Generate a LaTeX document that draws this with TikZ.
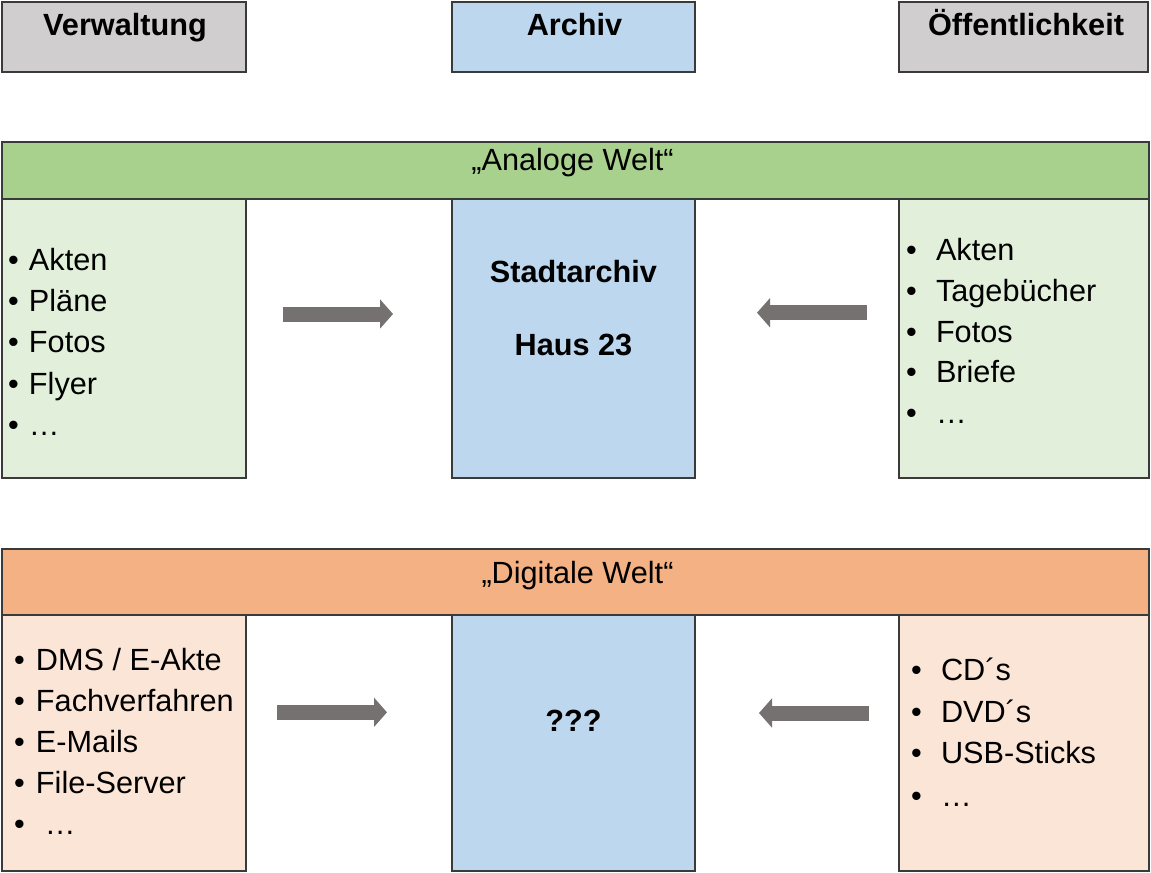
\documentclass[tikz,border=0pt]{standalone}
\usepackage{fontspec}
\setmainfont{Liberation Sans}
\usetikzlibrary{arrows.meta}
\definecolor{hdrgray}{HTML}{D0CECE}
\definecolor{archblue}{HTML}{BDD7EE}
\definecolor{greenbar}{HTML}{A9D18E}
\definecolor{lightgreen}{HTML}{E2EFDA}
\definecolor{orangebar}{HTML}{F4B183}
\definecolor{lightorange}{HTML}{FBE5D6}
\definecolor{arrowgray}{HTML}{767171}
\definecolor{edgegray}{HTML}{3A3A3A}
\newcommand\bul[1]{\makebox[#1][l]{•}}
\tikzset{
  box/.style={draw=edgegray, line width=1pt, rectangle, inner sep=0pt, outer sep=0pt},
  txt/.style={inner sep=0pt, outer sep=0pt, anchor=base, font=\fontsize{23}{31}\selectfont},
  btxt/.style={txt, font=\fontsize{23}{31}\selectfont\bfseries},
  listtxt/.style={inner sep=0pt, outer sep=0pt, anchor=base west, font=\fontsize{23}{31}\selectfont},
  bigarrow/.style={draw=arrowgray, line width=11.25pt, line cap=butt, -{Triangle[length=9.75pt, width=21.5pt]}}
}
\begin{document}
\begin{tikzpicture}[x=0.75pt, y=-0.75pt]
\useasboundingbox (0,0) rectangle (1151,872);
% header boxes
\node[box, fill=hdrgray, minimum width=183pt, minimum height=52.5pt] (verw) at (124,37) {};
\node[box, fill=archblue, minimum width=182.25pt, minimum height=52.5pt] (arch) at (573.5,37) {};
\node[box, fill=hdrgray, minimum width=186.75pt, minimum height=52.5pt] (oeff) at (1023.5,37) {};
\node[btxt] (verwt) at (125,35) {Verwaltung};
\node[btxt] (archt) at (574.5,35) {Archiv};
\node[btxt] (oefft) at (1026,35) {Öffentlichkeit};
% analog world
\node[box, fill=greenbar, minimum width=860.25pt, minimum height=42.75pt] (analog) at (575.5,170.5) {};
\node[txt] (analogt) at (572.5,170.7) {„Analoge Welt“};
\node[box, fill=lightgreen, minimum width=183pt, minimum height=209.25pt] (aleft) at (124,338.5) {};
\node[box, fill=archblue, minimum width=182.25pt, minimum height=209.25pt] (acenter) at (573.5,338.5) {};
\node[box, fill=lightgreen, minimum width=187.5pt, minimum height=209.25pt] (aright) at (1024,338.5) {};
\node[btxt] (stadt) at (573.5,282.3) {Stadtarchiv};
\node[btxt] (haus) at (573.5,355.7) {Haus 23};
\node[listtxt] (alist) at (8,270) {\begin{tabular}[t]{@{}l@{}}
\bul{15.75pt}Akten\\
\bul{15.75pt}Pläne\\
\bul{15.75pt}Fotos\\
\bul{15.75pt}Flyer\\
\bul{15.75pt}…
\end{tabular}};
\node[listtxt] (arlist) at (906,260.7) {\begin{tabular}[t]{@{}l@{}}
\bul{22.5pt}Akten\\[-0.5pt]
\bul{22.5pt}Tagebücher\\[-0.5pt]
\bul{22.5pt}Fotos\\[-0.5pt]
\bul{22.5pt}Briefe\\[-0.5pt]
\bul{22.5pt}…
\end{tabular}};
% digital world
\node[box, fill=orangebar, minimum width=860.25pt, minimum height=49.5pt] (digital) at (575.5,582) {};
\node[txt] (digitalt) at (577.5,583.3) {„Digitale Welt“};
\node[box, fill=lightorange, minimum width=183pt, minimum height=192pt] (dleft) at (124,743) {};
\node[box, fill=archblue, minimum width=182.25pt, minimum height=192pt] (dcenter) at (573.5,743) {};
\node[box, fill=lightorange, minimum width=187.5pt, minimum height=192pt] (dright) at (1024,743) {};
\node[btxt] (qqq) at (573.5,731.7) {???};
\node[listtxt] (dlist) at (14,670.7) {\begin{tabular}[t]{@{}l@{}}
\bul{16.5pt}DMS / E-Akte\\[-0.25pt]
\bul{16.5pt}Fachverfahren\\[-0.25pt]
\bul{16.5pt}E-Mails\\[-0.25pt]
\bul{16.5pt}File-Server\\[-0.25pt]
\bul{16.5pt}\hspace{6.75pt}…
\end{tabular}};
\node[listtxt] (drlist) at (911,680.7) {\begin{tabular}[t]{@{}l@{}}
\bul{22.5pt}CD´s\\
\bul{22.5pt}DVD´s\\
\bul{22.5pt}USB-Sticks\\[1.6pt]
\bul{22.5pt}…
\end{tabular}};
% arrows
\coordinate (a1s) at (283,314);   \coordinate (a1e) at (393,314);
\coordinate (a2s) at (867,312.7); \coordinate (a2e) at (757,312.7);
\coordinate (a3s) at (277,712.3); \coordinate (a3e) at (387,712.3);
\coordinate (a4s) at (869,713);   \coordinate (a4e) at (759,713);
\draw[bigarrow] (a1s) -- (a1e);
\draw[bigarrow] (a2s) -- (a2e);
\draw[bigarrow] (a3s) -- (a3e);
\draw[bigarrow] (a4s) -- (a4e);
\end{tikzpicture}
\end{document}
